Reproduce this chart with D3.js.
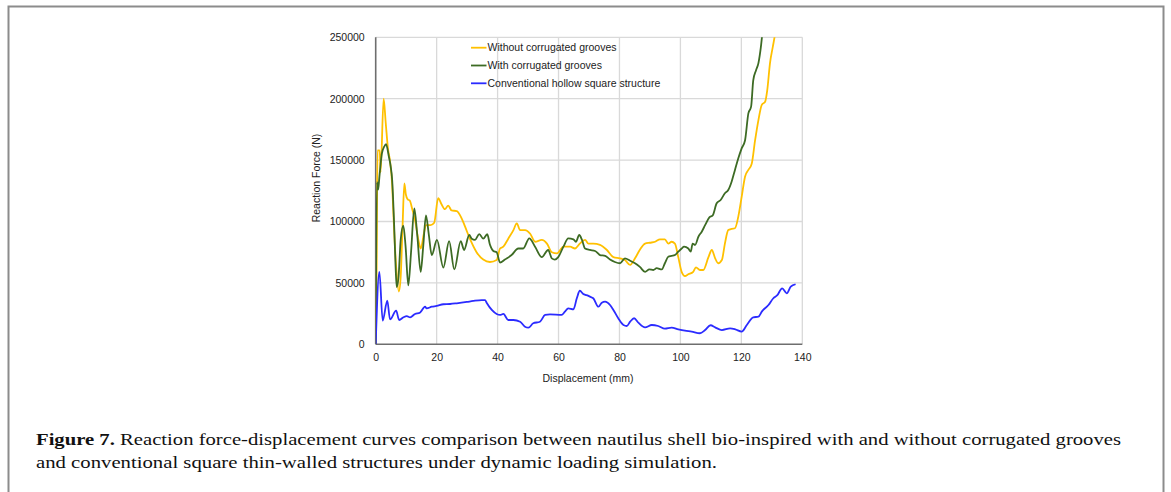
<!DOCTYPE html>
<html>
<head>
<meta charset="utf-8">
<script src="https://cdn.jsdelivr.net/npm/d3@7"></script>
<style>
  body { margin: 0; background: #fff; }
  svg { display: block; }
</style>
</head>
<body>
<svg width="1171" height="492"></svg>
<script>
// axis ticks
const xTicks = [0, 20, 40, 60, 80, 100, 120, 140]
const yTicks = [0, 50000, 100000, 150000, 200000, 250000]

const seriesNames = [
  "Without corrugated grooves",
  "With corrugated grooves",
  "Conventional hollow square structure"
]
const seriesColors = ["#ffc000", "#3d6b24", "#2b2bff"]

// [displacement (mm), reaction force (N)]
const withoutGrooves = [
  [0,0],[0.3,60000],[0.6,158000],[1.3,158000],[1.6,140000],[2.6,200000],[3.3,180000],[4.0,160000],
  [4.7,149000],[5.4,130000],[5.9,101000],[6.8,60000],[7.6,43000],[8.2,55000],[8.8,95000],[9.4,131000],
  [9.9,122000],[10.5,118000],[11.2,117000],[12.0,110000],[13.0,100000],[14.0,85000],[14.8,78000],
  [15.8,90000],[16.5,97000],[18.0,97000],[19.2,99000],[20.5,119000],[21.6,114000],[22.7,110000],
  [23.8,113000],[24.9,109000],[26.6,108500],[28.2,102600],[29.3,96000],[30.9,86000],[33.1,75000],
  [35.3,69000],[37.5,67000],[39.7,68600],[40.8,78000],[41.9,79500],[43.5,86000],[45.2,93000],
  [46.3,98500],[47.4,93000],[49.0,93000],[50.7,90000],[52.3,83500],[54.5,85000],[56.2,82000],
  [57.8,75000],[59.5,74000],[61.6,79500],[63.8,79500],[65.4,78000],[67.0,82000],[68.7,85000],
  [69.8,82000],[71.4,82000],[73.6,81000],[75.8,77000],[78.0,71000],[80.2,70000],[81.8,68600],
  [83.5,64600],[85.1,70000],[86.7,77000],[88.4,82000],[90.0,82700],[91.7,83500],[93.3,85500],
  [94.9,85500],[96.0,82000],[97.1,83500],[98.2,82000],[99.3,71000],[100.4,59000],[101.5,55600],
  [102.6,57000],[104.2,59000],[105.1,62700],[106.4,60500],[107.5,60500],[109.2,71000],[110.3,76800],
  [111.4,70000],[112.4,66000],[113.6,68600],[114.6,82000],[115.7,93000],[116.8,94000],[117.9,94500],
  [119.0,104000],[120.1,120000],[121.2,136500],[122.3,142000],[123.4,147000],[124.5,166000],
  [125.6,182600],[126.7,195000],[127.8,197500],[128.5,207000],[129.4,229000],[130.3,242000],
  [131.0,252000],[131.6,265000]
]

const withGrooves = [
  [0,0],[0.4,132000],[0.8,126000],[1.2,136000],[2.0,155000],[2.8,161000],[3.4,163000],[4.3,153000],
  [4.9,145000],[5.4,134000],[6.0,101000],[6.5,65000],[6.9,46500],[7.5,55000],[8.2,85000],[9.06,96600],
  [9.8,80000],[10.7,48000],[11.6,75000],[12.67,110700],[13.6,90000],[14.77,59000],[15.6,80000],
  [16.5,105000],[17.4,90000],[18.4,72700],[20.1,85000],[22.2,62500],[24.1,84000],[25.8,61000],
  [27.9,84000],[29.0,76800],[30.7,89000],[31.5,86000],[32.6,85000],[34.0,89800],[35.3,86000],
  [36.6,89600],[37.5,81000],[38.6,76000],[39.7,75000],[40.8,66500],[42.4,69000],[44.6,72700],
  [46.8,78000],[48.4,78000],[50.4,86300],[52.3,79500],[54.5,71000],[56.6,76800],[57.8,70000],
  [58.8,69000],[59.9,71000],[61.6,79500],[63.2,86300],[64.9,85500],[65.7,83500],[66.8,89000],
  [67.7,85000],[68.7,78000],[70.3,76800],[72.0,76000],[73.6,72700],[75.3,72000],[76.9,69000],
  [78.5,67000],[80.2,66000],[81.8,70000],[83.5,68000],[85.1,66000],[86.7,63000],[88.4,59000],
  [89.8,61000],[91.1,60500],[92.2,62000],[93.9,61000],[94.9,66000],[96.0,71300],[97.1,72000],
  [98.2,72700],[99.3,75400],[100.4,78000],[101.2,79500],[102.6,78000],[103.4,75400],[104.0,82000],
  [104.8,80900],[105.9,87600],[107.0,91700],[108.1,97000],[109.5,103400],[110.6,105000],
  [111.9,114800],[113.2,117500],[114.6,123000],[115.7,125600],[116.8,132400],[117.9,142000],
  [119.0,151500],[120.1,159600],[121.2,166000],[122.3,188000],[123.2,193500],[123.9,215000],
  [124.8,223000],[125.6,229000],[126.4,242000],[127.0,256000],[127.5,268000]
]

const conventional = [
  [0,0],[1.2,59000],[2.3,19200],[3.8,35500],[4.7,20300],[6.7,27400],[7.7,19800],[9.1,22000],
  [10.2,23000],[11.3,22000],[12.9,24700],[14.5,25700],[16.2,30600],[16.7,29300],[18.4,30600],
  [20.0,31200],[22.2,32600],[24.4,32800],[26.6,33400],[29.9,34500],[32.0,35300],[34.8,36000],
  [35.9,36000],[36.4,33900],[38.1,28000],[39.7,24700],[40.8,23900],[41.9,24700],[43.5,19800],
  [45.2,19800],[47.4,18400],[49.0,14300],[50.1,13500],[51.7,17100],[53.9,18400],[55.6,23900],
  [57.2,24400],[61.0,23900],[62.1,26600],[63.2,29300],[64.9,28500],[66.0,37500],[67.0,43600],
  [68.1,41000],[69.2,40000],[70.3,38800],[71.4,37500],[73.1,30600],[74.2,33900],[75.3,34700],
  [76.9,32000],[78.0,28000],[79.6,21200],[81.3,15700],[82.4,14900],[83.5,18400],[84.8,21200],
  [86.2,17600],[88.4,13800],[90.6,15700],[92.7,14900],[94.9,12700],[97.1,13500],[99.3,12200],
  [101.5,11100],[103.7,10300],[106.4,9000],[108.1,11600],[109.9,15500],[111.4,13800],[113.6,11600],
  [116.3,13000],[118.0,12200],[120.1,10300],[121.8,15700],[123.9,22000],[125.6,22500],[126.7,26600],
  [128.9,32000],[130.5,37500],[131.8,40000],[133.4,45600],[134.9,41500],[136.2,46900],[137.8,48900]
]

const captionLines = [
  ["Figure 7.", " Reaction force-displacement curves comparison between nautilus shell bio-inspired with and without corrugated grooves"],
  ["", "and conventional square thin-walled structures under dynamic loading simulation."]
]

const svg = d3.select("svg")
const font = "'Liberation Sans', Arial, sans-serif"

// outer frame
svg.append("rect")
  .attr("x", 8.5).attr("y", 6.5)
  .attr("width", 1155).attr("height", 520)
  .attr("fill", "none").attr("stroke", "#8c8c8c").attr("stroke-width", 2)

const x = d3.scaleLinear().domain([0, 140]).range([375.7, 802.3])
const y = d3.scaleLinear().domain([0, 250000]).range([344.3, 37.3])

// grid
svg.append("g").selectAll("line").data(yTicks.slice(1)).join("line")
  .attr("x1", x(0)).attr("x2", x(140))
  .attr("y1", d => y(d)).attr("y2", d => y(d))
  .attr("stroke", "#d9d9d9").attr("stroke-width", 1.3)
svg.append("g").selectAll("line").data(xTicks.slice(1)).join("line")
  .attr("x1", d => x(d)).attr("x2", d => x(d))
  .attr("y1", y(0)).attr("y2", y(250000))
  .attr("stroke", "#d9d9d9").attr("stroke-width", 1.3)

// axes (labels only, lines drawn separately)
const xAxis = svg.append("g")
  .attr("transform", `translate(0,${y(0)})`)
  .call(d3.axisBottom(x).tickValues(xTicks).tickSize(0).tickPadding(9))
const yAxis = svg.append("g")
  .attr("transform", `translate(${x(0)},0)`)
  .call(d3.axisLeft(y).tickValues(yTicks).tickSize(0).tickPadding(11).tickFormat(d3.format("d")))
;[xAxis, yAxis].forEach(g => {
  g.select(".domain").remove()
  g.selectAll("text").attr("font-family", font).attr("font-size", 10.5).attr("fill", "#222")
})

svg.append("line")
  .attr("x1", x(0)).attr("x2", x(0)).attr("y1", y(0)).attr("y2", y(250000))
  .attr("stroke", "#6e6e6e").attr("stroke-width", 1.6)
svg.append("line")
  .attr("x1", x(0)).attr("x2", x(140)).attr("y1", y(0)).attr("y2", y(0))
  .attr("stroke", "#6e6e6e").attr("stroke-width", 1.6)

// axis titles
svg.append("text")
  .attr("x", 588).attr("y", 382)
  .attr("text-anchor", "middle")
  .attr("font-family", font).attr("font-size", 10.5).attr("fill", "#222")
  .text("Displacement (mm)")
svg.append("text")
  .attr("transform", "translate(320,178) rotate(-90)")
  .attr("text-anchor", "middle")
  .attr("font-family", font).attr("font-size", 10.5).attr("fill", "#222")
  .text("Reaction Force (N)")

// curves
svg.append("clipPath").attr("id", "plot")
  .append("rect")
  .attr("x", x(0)).attr("y", y(250000))
  .attr("width", x(140) - x(0)).attr("height", y(0) - y(250000))

const line = d3.line()
  .x(d => x(d[0]))
  .y(d => y(d[1]))
  .curve(d3.curveMonotoneX)

const allSeries = [withoutGrooves, withGrooves, conventional]
svg.append("g").attr("clip-path", "url(#plot)")
  .selectAll("path").data(allSeries).join("path")
  .attr("d", line)
  .attr("fill", "none")
  .attr("stroke", (d, i) => seriesColors[i])
  .attr("stroke-width", 1.8)
  .attr("stroke-linejoin", "round")

// legend
const legend = svg.append("g").selectAll("g").data(seriesNames).join("g")
  .attr("transform", (d, i) => `translate(471,${47.7 + i * 17.8})`)
legend.append("line")
  .attr("x1", 0).attr("x2", 15.5)
  .attr("stroke", (d, i) => seriesColors[i]).attr("stroke-width", 1.8)
legend.append("text")
  .attr("x", 16.5).attr("dy", "0.35em")
  .attr("font-family", font).attr("font-size", 10.5).attr("fill", "#222")
  .text(d => d)

// caption
const capWidths = [1085, 681]
captionLines.forEach((ln, i) => {
  const t = svg.append("text")
    .attr("x", 36).attr("y", 445 + i * 23)
    .attr("font-family", "'Liberation Serif', 'Times New Roman', serif")
    .attr("font-size", 17.5).attr("fill", "#111")
    .attr("textLength", capWidths[i]).attr("lengthAdjust", "spacingAndGlyphs")
  if (ln[0]) t.append("tspan").attr("font-weight", "bold").text(ln[0])
  t.append("tspan").text(ln[1])
})
</script>
</body>
</html>
